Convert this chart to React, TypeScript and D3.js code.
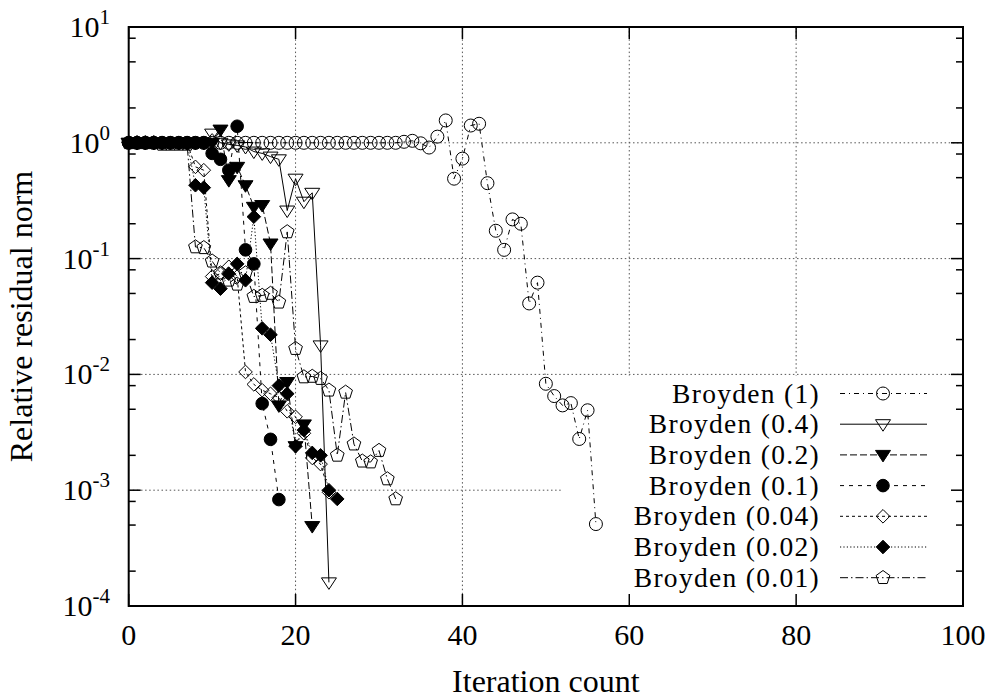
import React from 'react';
import * as d3 from 'd3';

// ---------- data ----------
const xTicks = [0, 20, 40, 60, 80, 100];
const yDecades = [-4, -3, -2, -1, 0, 1];
const yMinorMantissas = [2, 5, 8];

const seriesNames = [
  'Broyden (1)',
  'Broyden (0.4)',
  'Broyden (0.2)',
  'Broyden (0.1)',
  'Broyden (0.04)',
  'Broyden (0.02)',
  'Broyden (0.01)',
];

const broyden1 = [
  1, 1, 1, 1, 1, 1, 1, 1, 1, 1,
  1, 1, 1, 1, 1, 1, 1, 1, 1, 1,
  1, 1, 1, 1, 1, 1, 1, 1, 1, 1,
  1, 1, 1, 1.02, 1.04, 0.99, 0.91, 1.13, 1.56, 0.49,
  0.73, 1.41, 1.46, 0.448, 0.174, 0.119, 0.218, 0.2, 0.041, 0.062,
  0.0083, 0.0065, 0.0054, 0.00565, 0.00277, 0.0049, 0.00051,
];
const broyden04 = [
  1, 1, 1, 1, 1, 1, 1, 1, 1, 1,
  1.2, 1.0, 0.97, 0.95, 0.92, 0.84, 0.81, 0.76, 0.72, 0.26,
  0.49, 0.31, 0.37, 0.0178, 0.00016,
];
const broyden02 = [
  1, 1, 1, 1, 1, 1, 1, 1, 1, 1,
  1, 1.3, 0.476, 0.62, 0.43, 0.28, 0.29, 0.135, 0.0054, 0.0086,
  0.0024, 0.0037, 0.00049,
];
const broyden01 = [
  1, 1, 1, 1, 1, 1, 1, 1, 1, 1,
  0.81, 0.72, 0.58, 1.39, 0.119, 0.09, 0.0056, 0.00275, 0.00083,
];
const broyden004 = [
  1, 1, 1, 1, 1, 1, 1, 1, 0.62, 0.58,
  0.07, 0.074, 0.085, 0.07, 0.0105, 0.0082, 0.0073, 0.0068, 0.0063, 0.0048,
  0.0043, 0.0031, 0.0019, 0.00168, 0.00096,
];
const broyden002 = [
  1, 1, 1, 1, 1, 1, 1, 1, 0.43, 0.41,
  0.062, 0.055, 0.074, 0.09, 0.065, 0.23, 0.025, 0.022, 0.008, 0.0068,
  0.0024, 0.0033, 0.0021, 0.002, 0.001, 0.00084,
];
const broyden001 = [
  1, 1, 1, 1, 0.97, 0.97, 0.97, 0.97, 0.126, 0.124,
  0.095, 0.075, 0.065, 0.06, 0.075, 0.047, 0.048, 0.05, 0.042, 0.17,
  0.0167, 0.0095, 0.0096, 0.0092, 0.0073, 0.002, 0.007, 0.0025, 0.00178, 0.00175,
  0.0022, 0.00125, 0.00084,
];

const seriesValues = [broyden1, broyden04, broyden02, broyden01, broyden004, broyden002, broyden001];

// ---------- styles ----------
const dashes = ['5,4,1,4', 'none', '7,3', '4,5', '3,3', '1.2,2.2', '8,3,1.5,3'];
const markers = ['circle', 'triDownOpen', 'triDownFilled', 'circleFilled', 'diamondOpen', 'diamondFilled', 'pentagonOpen'];

const W = 995;
const H = 699;
const left = 128.7;
const right = 963;
const top = 27;
const bottom = 606;
const FONT = '"Liberation Serif", "Times New Roman", serif';

const x = d3.scaleLinear().domain([0, 100]).range([left, right]);
const y = d3.scaleLog().domain([1e-4, 10]).range([bottom, top]);

function Marker({ type, cx, cy }: { type: string; cx: number; cy: number }) {
  const s = { stroke: '#000', strokeWidth: 1 };
  switch (type) {
    case 'circle':
      return <circle cx={cx} cy={cy} r={6.5} fill="none" {...s} />;
    case 'circleFilled':
      return <circle cx={cx} cy={cy} r={6.3} fill="#000" {...s} />;
    case 'triDownOpen':
    case 'triDownFilled': {
      const pts = [[cx - 7.5, cy - 4.5], [cx + 7.5, cy - 4.5], [cx, cy + 7]].map((p) => p.join(',')).join(' ');
      return <polygon points={pts} fill={type === 'triDownFilled' ? '#000' : 'none'} {...s} />;
    }
    case 'diamondOpen':
    case 'diamondFilled': {
      const r = 6.8;
      const pts = [[cx, cy - r], [cx + r, cy], [cx, cy + r], [cx - r, cy]].map((p) => p.join(',')).join(' ');
      return <polygon points={pts} fill={type === 'diamondFilled' ? '#000' : 'none'} {...s} />;
    }
    case 'pentagonOpen': {
      const r = 7.2;
      const pts = d3.range(5).map((k) => {
        const a = -Math.PI / 2 + (k * 2 * Math.PI) / 5;
        return [cx + r * Math.cos(a), cy + r * Math.sin(a)].join(',');
      }).join(' ');
      return <polygon points={pts} fill="none" {...s} />;
    }
    default:
      return null;
  }
}

export default function App() {
  const line = d3.line<number>().x((_, i) => x(i)).y((d) => y(d));
  const keyLeft = 563;
  const keyTop = 376;
  const rowY = (i: number) => 393.5 + i * 30.7;

  const gridDash = '1.5,2.6';
  const gridColor = '#555';

  return (
    <svg width={W} height={H} style={{ position: 'absolute', left: 0, top: 0, background: '#fff' }}>
      <rect x={0} y={0} width={W} height={H} fill="#fff" />
      {/* grid */}
      {yDecades.filter((d) => d > -4 && d < 1).map((d) => (
        <line key={'gy' + d} x1={left} x2={right} y1={y(Math.pow(10, d))} y2={y(Math.pow(10, d))}
          stroke={gridColor} strokeWidth={1} strokeDasharray={gridDash} />
      ))}
      {xTicks.filter((t) => t > 0 && t < 100).map((t) => (
        <line key={'gx' + t} x1={x(t)} x2={x(t)} y1={top} y2={bottom}
          stroke={gridColor} strokeWidth={1} strokeDasharray={gridDash} />
      ))}
      {/* opaque key box */}
      <rect x={keyLeft} y={keyTop} width={right - keyLeft} height={bottom - keyTop} fill="#fff" />

      {/* frame */}
      <rect x={left} y={top} width={right - left} height={bottom - top} fill="none" stroke="#000" strokeWidth={2} />
      {/* x ticks */}
      {xTicks.map((t) => (
        <g key={'xt' + t}>
          <line x1={x(t)} x2={x(t)} y1={bottom} y2={bottom - 12} stroke="#000" strokeWidth={1.5} />
          <line x1={x(t)} x2={x(t)} y1={top} y2={top + 12} stroke="#000" strokeWidth={1.5} />
          <text x={x(t)} y={645} textAnchor="middle" fontFamily={FONT} fontSize={30}>{t}</text>
        </g>
      ))}
      {/* y ticks */}
      {yDecades.map((d) => {
        const yy = y(Math.pow(10, d));
        return (
          <g key={'yt' + d}>
            <line x1={left} x2={left + 12} y1={yy} y2={yy} stroke="#000" strokeWidth={1.5} />
            <line x1={right} x2={right - 12} y1={yy} y2={yy} stroke="#000" strokeWidth={1.5} />
            <text x={110} y={yy + 10} textAnchor="end" fontFamily={FONT} fontSize={30}>
              10<tspan dy={-13} fontSize={21}>{d}</tspan>
            </text>
          </g>
        );
      })}
      {yDecades.filter((d) => d < 1).flatMap((d) =>
        yMinorMantissas.map((m) => {
          const yy = y(m * Math.pow(10, d));
          return (
            <g key={'ym' + d + '_' + m}>
              <line x1={left} x2={left + 7} y1={yy} y2={yy} stroke="#000" strokeWidth={1.5} />
              <line x1={right} x2={right - 7} y1={yy} y2={yy} stroke="#000" strokeWidth={1.5} />
            </g>
          );
        })
      )}

      {/* axis titles */}
      <text x={(left + right) / 2} y={692} textAnchor="middle" fontFamily={FONT} fontSize={32}>Iteration count</text>
      <text transform={`translate(32,${(top + bottom) / 2}) rotate(-90)`} textAnchor="middle" fontFamily={FONT} fontSize={32}>
        Relative residual norm
      </text>

      {/* data */}
      {seriesValues.map((vals, si) => (
        <g key={'s' + si}>
          <path d={line(vals) || ''} fill="none" stroke="#000" strokeWidth={1}
            strokeDasharray={dashes[si] === 'none' ? undefined : dashes[si]} />
          {vals.map((v, i) => (
            <Marker key={i} type={markers[si]} cx={x(i)} cy={y(v)} />
          ))}
        </g>
      ))}

      {/* legend */}
      {seriesNames.map((name, si) => {
        const ry = rowY(si);
        return (
          <g key={'lg' + si}>
            <text x={820} y={ry + 9} textAnchor="end" fontFamily={FONT} fontSize={27.5} letterSpacing={1.3}>{name}</text>
            <line x1={840} x2={927} y1={ry} y2={ry} stroke="#000" strokeWidth={1}
              strokeDasharray={dashes[si] === 'none' ? undefined : dashes[si]} />
            <Marker type={markers[si]} cx={883} cy={ry} />
          </g>
        );
      })}
    </svg>
  );
}
